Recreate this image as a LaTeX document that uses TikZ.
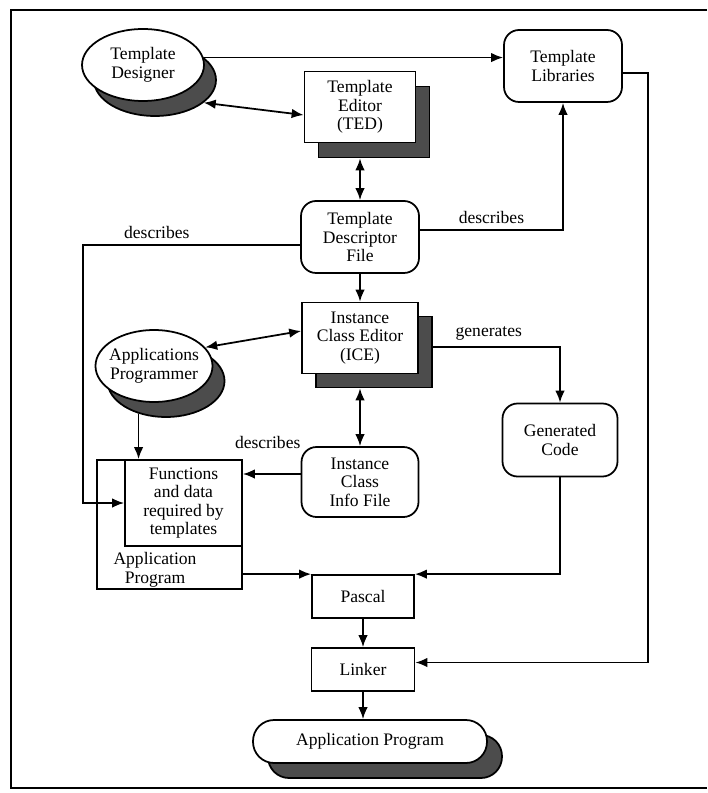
\documentclass[tikz,border=0pt]{standalone}
\usepackage{fontspec}
\setmainfont{Liberation Serif}
\usepackage{tikz}
\usetikzlibrary{arrows.meta}
\usetikzlibrary{calc}
\usetikzlibrary{shapes.geometric}
\definecolor{shadowgray}{gray}{0.3}
\tikzstyle{box} = [draw,fill=white,align=center,inner sep=0pt]
\tikzstyle{rbox} = [draw,fill=white,align=center,inner sep=0pt,rounded corners=0.3cm]
\tikzstyle{ell} = [draw,fill=white,ellipse,align=center,inner sep=0pt]
\tikzstyle{dark} = [draw,fill=shadowgray]

\begin{document}
\begin{tikzpicture}[>={Latex[length=2.4mm,width=1.9mm]},x=0.02cm,y=-0.02cm,line width=1pt,
    font=\fontsize{10}{10.5}\selectfont]
\useasboundingbox (0,0) rectangle (707,793);

% frame
\draw[line width=1.2pt] (707,10) -- (11,10) -- (11,788) -- (707,788);

% Draw shadows first, then blocks

    \node[ell,dark,minimum width=2.44cm,minimum height=1.44cm] at (155,80) (designersh) {};
    \node[ell,minimum width=2.44cm,minimum height=1.44cm] at (143,65) (designer) {Template\\Designer};
    \node[box,dark,minimum width=2.22cm,minimum height=1.42cm] at (374,122) (tedsh) {};
    \node[box,minimum width=2.22cm,minimum height=1.42cm] at (360,107) (ted) {Template\\Editor\\(TED)};
    \node[rbox,minimum width=2.36cm,minimum height=1.44cm] at (563,66) (lib) {Template\\Libraries};
    \node[rbox,minimum width=2.36cm,minimum height=1.44cm] at (360,237) (tdf) {Template\\Descriptor\\File};

    \node[box,dark,minimum width=2.32cm,minimum height=1.42cm] at (374,352) (icesh) {};
    \node[box,minimum width=2.32cm,minimum height=1.42cm] at (360,338) (ice) {Instance\\Class Editor\\(ICE)};
    \node[ell,dark,minimum width=2.3cm,minimum height=1.44cm,inner xsep=-2pt] at (166,381) (progsh) {\phantom{Applications}};
    \node[ell,minimum width=2.3cm,minimum height=1.44cm,inner xsep=-2pt] at (154,366) (prog) {Applications\\Programmer};
    \node[rbox,minimum width=2.3cm,minimum height=1.46cm] at (560,440) (gen) {Generated\\Code};
    \node[rbox,minimum width=2.34cm,minimum height=1.4cm] at (360,482) (icif) {Instance\\Class\\Info File};

    \node[box,minimum width=2.9cm,minimum height=2.58cm] at (169.5,524.5) (approg) {};
    \node[box,minimum width=2.34cm,minimum height=1.72cm] at (183.5,503) (funcs) {Functions\\and data\\required by\\templates};
    \node[align=center,inner sep=0pt] at (155,570) (approgtxt) {Application\\Program};

    \node[box,minimum width=2.04cm,minimum height=0.86cm] at (363,596.5) (pascal) {Pascal};
    \node[box,minimum width=2.06cm,minimum height=0.86cm] at (363,669.5) (linker) {Linker};
    \node[rbox,dark,rounded corners=0.42cm,minimum width=4.68cm,minimum height=0.86cm] at (385,756.5) (finalsh) {};
    \node[rbox,rounded corners=0.42cm,minimum width=4.68cm,minimum height=0.86cm] at (370,741.5) (final) {Application Program};

    \coordinate (leftrail) at (83,400);
    \coordinate (rightrail) at (648,400);
    \coordinate (icifout) at ($(icif.west)+(0,-8)$);

% Connectors

    \draw[->] (designer.7) -- (designer.7 -| lib.west);
    \draw[<->] (designersh.-25) -- ($(ted.west)+(0,8)$);
    \draw[<->] (ted.south |- tedsh.south) -- (tdf.north);
    \draw[->] ($(tdf.east)+(0,-7)$) -| node[above,pos=0.25] {describes} (lib.south);
    \draw[->] ($(tdf.west)+(0,8)$) -| node[above,pos=0.33] {describes} (leftrail) |- (funcs.west);
    \draw[->] (tdf) -- (ice);

    \draw[<->] (prog.20) -- ($(ice.west)+(0,-7)$);
    \draw[<->] (ice.south |- icesh.south) -- (icif.north);
    \draw[->] ($(icesh.east)+(0,-5)$) -| node[above,pos=0.22] {generates} (gen.north);
    \draw[->] (icifout) -- node[above=0.38cm,pos=0.57] {describes} (icifout -| funcs.east);
    \draw[->] (progsh.-130) -- (progsh.-130 |- funcs.north);

    \draw[->] (approg.east |- pascal.north west) -- (pascal.north west);
    \draw[->] (gen.south) |- (pascal.north east);
    \draw[->] (pascal) -- (linker);
    \draw[->] ($(lib.east)+(0,7)$) -| (rightrail) |- ($(linker.east)+(0,-7)$);
    \draw[->] (linker.south) -- (linker.south |- final.north);

\end{tikzpicture}
\end{document}
